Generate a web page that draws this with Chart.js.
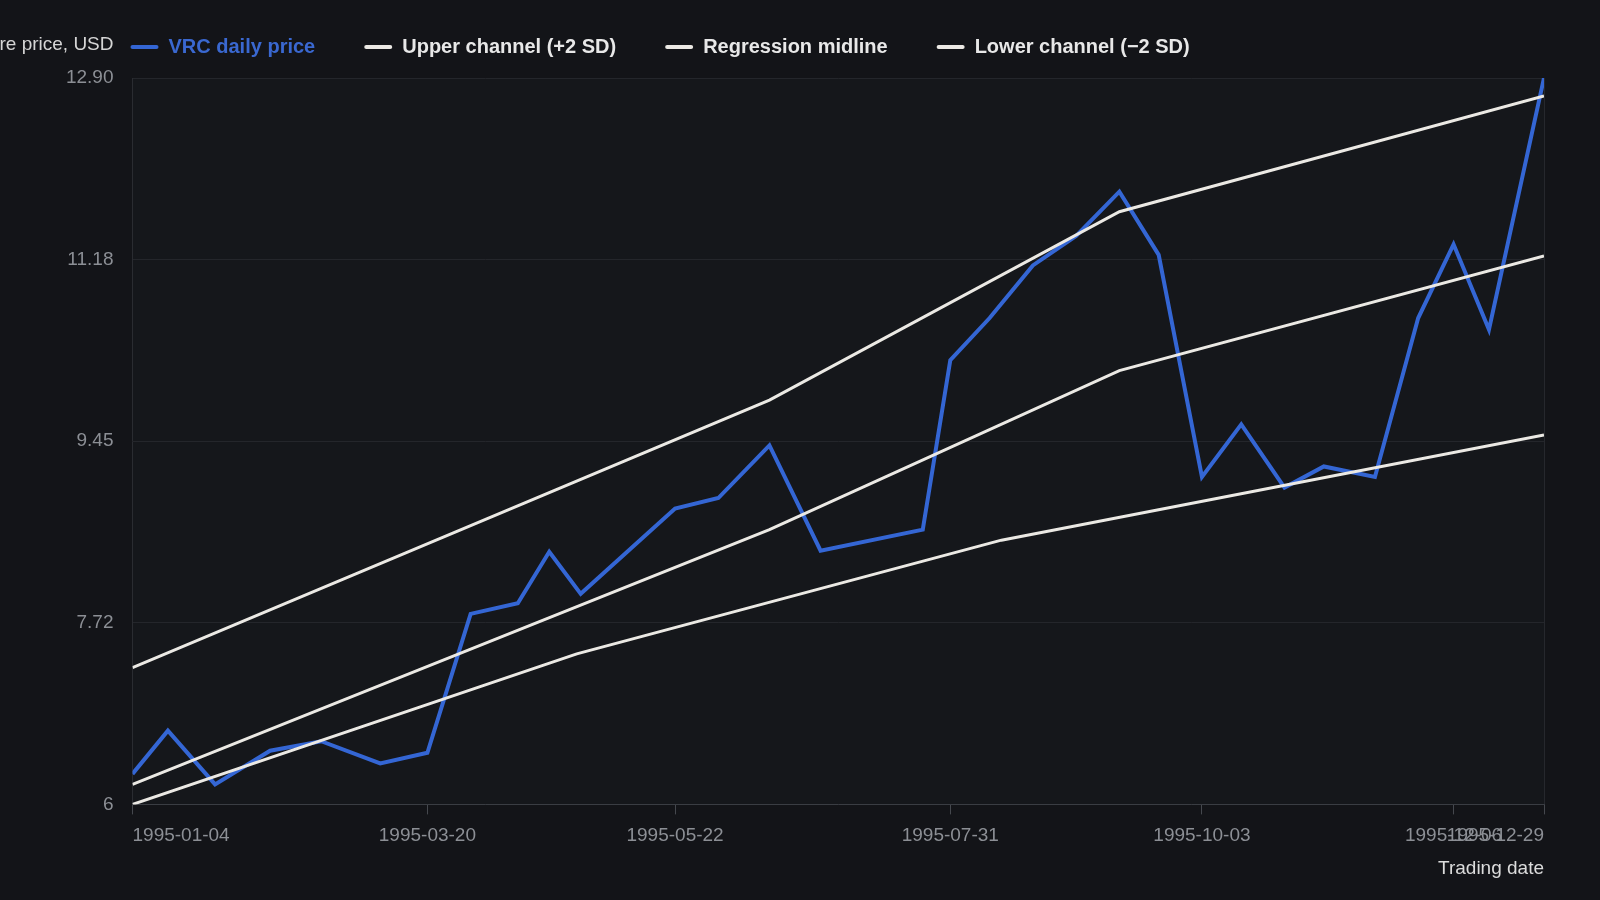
<!DOCTYPE html>
<html>
<head>
<meta charset="utf-8">
<title>VRC daily price – regression channel</title>
<script src="https://cdn.jsdelivr.net/npm/chart.js@4.4.1/dist/chart.umd.min.js"></script>
<style>
  html, body { margin: 0; padding: 0; background: #131418; }
  #wrap { width: 1600px; height: 900px; position: relative; }
</style>
</head>
<body>
<div id="wrap"><canvas id="grafico"></canvas></div>
<script>
// daily closes, 1995
const priceDates = [
  '1995-01-04', '1995-01-13', '1995-01-25', '1995-02-08', '1995-02-21', '1995-03-08',
  '1995-03-20', '1995-03-31', '1995-04-12', '1995-04-20', '1995-04-28', '1995-05-22',
  '1995-06-02', '1995-06-15', '1995-06-28', '1995-07-24', '1995-07-31', '1995-08-10',
  '1995-08-21', '1995-09-01', '1995-09-12', '1995-09-22', '1995-10-03', '1995-10-13',
  '1995-10-24', '1995-11-03', '1995-11-16', '1995-11-27', '1995-12-06', '1995-12-15',
  '1995-12-29'
];
const priceValues = [
  6.29, 6.70, 6.19, 6.51, 6.60, 6.39,
  6.49, 7.81, 7.91, 8.40, 8.00, 8.81,
  8.91, 9.41, 8.41, 8.61, 10.22, 10.62,
  11.12, 11.40, 11.82, 11.22, 9.11, 9.61,
  9.01, 9.21, 9.11, 10.62, 11.32, 10.51,
  12.90
];

// channel lines (break points only)
const upperDates = ['1995-01-04', '1995-06-15', '1995-09-12', '1995-12-29'];
const upperValues = [7.30, 9.84, 11.63, 12.73];
const midDates = ['1995-01-04', '1995-06-15', '1995-09-12', '1995-12-29'];
const midValues = [6.19, 8.61, 10.12, 11.21];
const lowerDates = ['1995-01-04', '1995-04-27', '1995-08-13', '1995-12-29'];
const lowerValues = [6.00, 7.43, 8.51, 9.51];

const seriesNames = ['VRC daily price', 'Upper channel (+2 SD)', 'Regression midline', 'Lower channel (\u22122 SD)'];

const xTickDates = ['1995-01-04', '1995-03-20', '1995-05-22', '1995-07-31', '1995-10-03', '1995-12-06', '1995-12-29'];
const yTickValues = [6, 7.725, 9.45, 11.175, 12.9];
const yTickLabels = ['6', '7.72', '9.45', '11.18', '12.90'];

const yTitle = 'Share price, USD';
const xTitle = 'Trading date';

const BLUE = '#3466d4';
const WHITE = '#ebe9e4';
const legendColors = ['#3a68d0', '#e8e8e8', '#e8e8e8', '#e8e8e8'];

function toDay(s) { return Date.parse(s + 'T00:00:00Z') / 86400000; }
function toDate(d) { return new Date(d * 86400000).toISOString().slice(0, 10); }
function points(dates, values) { return dates.map((d, i) => ({ x: toDay(d), y: values[i] })); }

Chart.defaults.font.family = '"Liberation Sans", Arial, Helvetica, sans-serif';

const chartBg = {
  id: 'chartBg',
  beforeDraw(chart) {
    const { ctx, chartArea: a } = chart;
    ctx.save();
    ctx.fillStyle = '#15171b';
    ctx.fillRect(a.left, a.top, a.right - a.left, a.bottom - a.top);
    ctx.restore();
    // legend row starts at the plot's left edge
    const lg = chart.legend;
    const pad = lg.options.labels.padding;
    lg.left = a.left - 2 - pad;
    lg.top = 37 - pad;
  },
  afterDraw(chart) {
    const { ctx, chartArea: a } = chart;
    ctx.save();
    ctx.font = '19px "Liberation Sans", Arial, sans-serif';
    ctx.fillStyle = '#d6d6d6';
    ctx.textAlign = 'right';
    ctx.textBaseline = 'middle';
    ctx.fillText(yTitle, a.left - 19, 45);
    ctx.restore();
  }
};

const ctx = document.getElementById('grafico');

new Chart(ctx, {
  type: 'line',
  data: {
    datasets: [{
      label: seriesNames[0],
      data: points(priceDates, priceValues),
      borderColor: BLUE,
      backgroundColor: BLUE,
      borderWidth: 4,
      order: 1
    },
    {
      label: seriesNames[1],
      data: points(upperDates, upperValues),
      borderColor: WHITE,
      backgroundColor: WHITE,
      borderWidth: 3,
      order: 0
    },
    {
      label: seriesNames[2],
      data: points(midDates, midValues),
      borderColor: WHITE,
      backgroundColor: WHITE,
      borderWidth: 3,
      order: 0
    },
    {
      label: seriesNames[3],
      data: points(lowerDates, lowerValues),
      borderColor: WHITE,
      backgroundColor: WHITE,
      borderWidth: 3,
      order: 0
    }]
  },
  options: {
    responsive: true,
    maintainAspectRatio: false,
    animation: false,
    devicePixelRatio: 1,
    pointStyle: false,
    elements: {
      point: { radius: 0 },
      line: { tension: 0, borderJoinStyle: 'miter', borderCapStyle: 'butt' }
    },
    layout: { padding: { left: 0, right: 56, top: 0, bottom: 20 } },
    plugins: {
      tooltip: { enabled: false },
      legend: {
        position: 'top',
        align: 'start',
        maxHeight: 78,
        labels: {
          boxWidth: 28,
          boxHeight: 4,
          padding: 49,
          font: { size: 20, weight: 'bold' },
          generateLabels(chart) {
            const items = Chart.defaults.plugins.legend.labels.generateLabels(chart);
            items.sort((a, b) => a.datasetIndex - b.datasetIndex);
            return items.map(it => Object.assign(it, {
              fillStyle: it.strokeStyle,
              lineWidth: 0,
              borderRadius: 2,
              fontColor: legendColors[it.datasetIndex]
            }));
          }
        }
      }
    },
    scales: {
      x: {
        type: 'linear',
        min: toDay(xTickDates[0]),
        max: toDay(xTickDates[xTickDates.length - 1]),
        afterBuildTicks(s) { s.ticks = xTickDates.map(d => ({ value: toDay(d) })); },
        ticks: {
          autoSkip: false,
          maxRotation: 0,
          align: 'inner',
          color: '#8c8f95',
          font: { size: 19 },
          padding: 10,
          callback: v => toDate(v)
        },
        grid: {
          drawOnChartArea: true,
          color: c => c.index === xTickDates.length - 1 ? '#26282d' : 'rgba(0,0,0,0)',
          tickColor: '#45484e',
          tickLength: 10
        },
        border: { color: '#3a3d43' },
        title: {
          display: true,
          text: xTitle,
          align: 'end',
          color: '#dcdcdc',
          font: { size: 19 },
          padding: { top: 0, bottom: 0 }
        }
      },
      y: {
        type: 'linear',
        min: 6,
        max: 12.9,
        afterBuildTicks(s) { s.ticks = yTickValues.map(v => ({ value: v })); },
        afterFit(s) { s.width = 132.5; },
        ticks: {
          color: '#8c8f95',
          font: { size: 19 },
          padding: 19,
          callback: v => yTickLabels[yTickValues.indexOf(v)]
        },
        grid: { color: '#24262b', drawTicks: false },
        border: { color: '#2a2c31' }
      }
    }
  },
  plugins: [chartBg]
});
</script>
</body>
</html>
